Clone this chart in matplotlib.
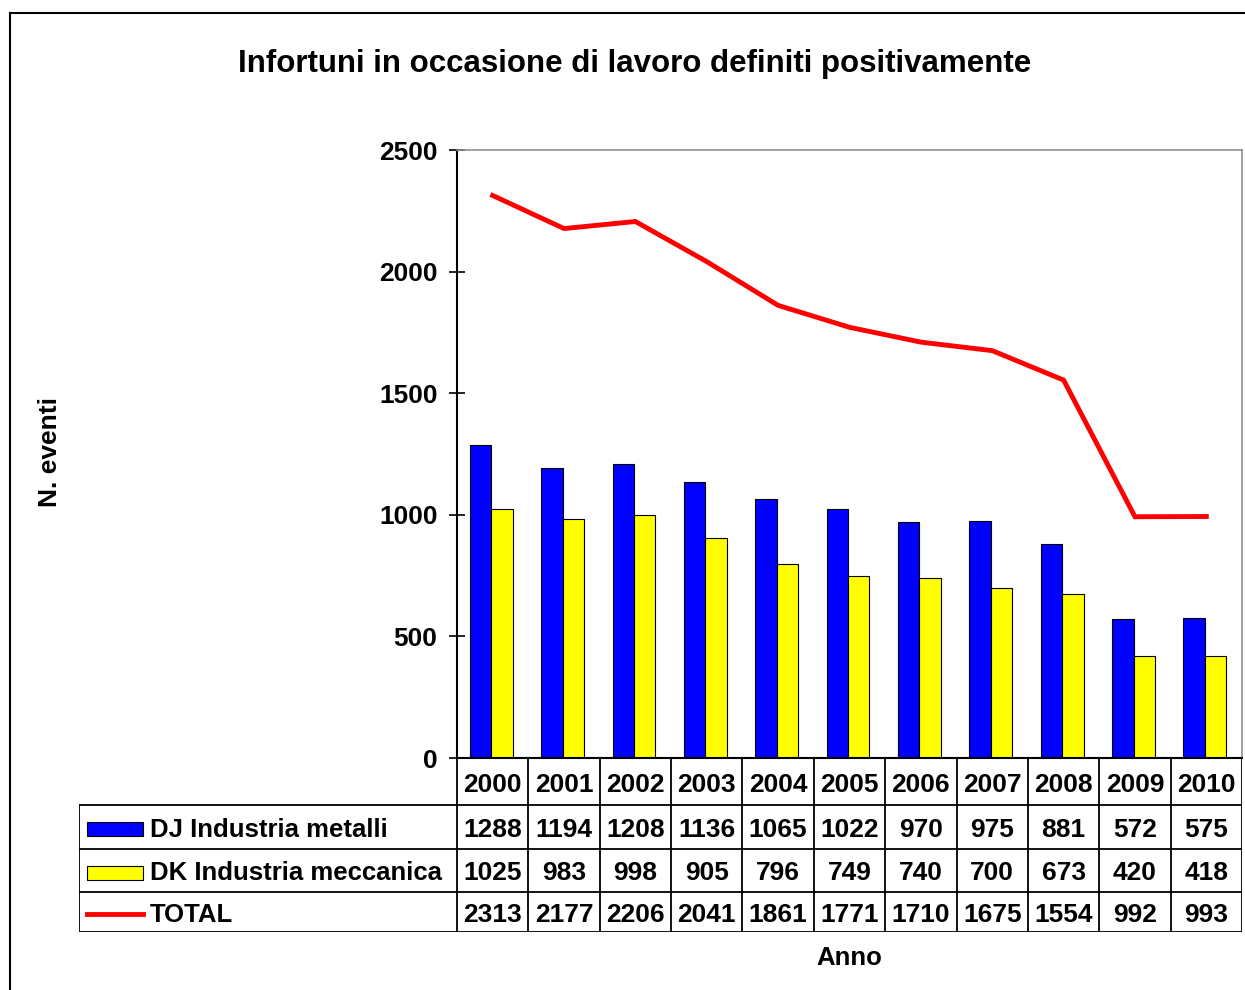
import matplotlib.pyplot as plt
from matplotlib.patches import Rectangle

plt.rcParams['font.family'] = ['Liberation Sans', 'DejaVu Sans']
plt.rcParams['font.weight'] = 'bold'

# Data
years = ['2000', '2001', '2002', '2003', '2004', '2005', '2006', '2007', '2008', '2009', '2010']
metalli = [1288, 1194, 1208, 1136, 1065, 1022, 970, 975, 881, 572, 575]
meccanica = [1025, 983, 998, 905, 796, 749, 740, 700, 673, 420, 418]
total = [2313, 2177, 2206, 2041, 1861, 1771, 1710, 1675, 1554, 992, 993]

series_names = ['DJ Industria metalli', 'DK Industria meccanica', 'TOTAL']
series_values = [metalli, meccanica, total]

W, H = 1245, 990
fig = plt.figure(figsize=(W / 100, H / 100), dpi=100)

# outer chart frame (runs off the right and bottom edges)
frame = Rectangle((10 / W, -0.05), 1.2, 1 - 13 / H + 0.05, transform=fig.transFigure,
                  fill=False, edgecolor='black', linewidth=1.5)
fig.patches.append(frame)

# main plot area
ax = fig.add_axes([457 / W, (H - 758) / H, (1242 - 457) / W, (758 - 150) / H])
x = list(range(len(years)))
bw = 0.3
off = -0.02
ax.bar([i - bw / 2 + off for i in x], metalli, width=bw, color='#0000FF', edgecolor='black', linewidth=0.8)
ax.bar([i + bw / 2 + off for i in x], meccanica, width=bw, color='#FFFF00', edgecolor='black', linewidth=0.8)
ax.plot(x, total, color='#FF0000', linewidth=3.5, solid_joinstyle='miter')

ax.set_xlim(-0.5, len(years) - 0.5)
ax.set_ylim(0, 2500)
ax.set_yticks(range(0, 2501, 500))
ax.set_xticks([])
ax.tick_params(axis='y', direction='inout', length=12, width=1.2, pad=8, labelsize=19)
for lbl in ax.get_yticklabels():
    lbl.set_fontweight('bold')
ax.spines['left'].set_linewidth(1.5)
ax.spines['bottom'].set_linewidth(1.5)
for s in ['top', 'right']:
    ax.spines[s].set_color('#909090')
    ax.spines[s].set_linewidth(1.2)

# data table under the plot, sharing category positions; y in pixel rows
unit = (1242 - 457) / len(years)
x_left = -0.5 - (457 - 79) / unit
x_right = len(years) - 0.5
rows = [758, 805, 849, 892, 932]
tax = fig.add_axes([79 / W, (H - 932) / H, (1242 - 79) / W, (932 - 758) / H])
tax.set_xlim(x_left, x_right)
tax.set_ylim(932, 758)
tax.axis('off')

lc = 'black'
lw = 1.3
for yy in rows[1:]:
    tax.plot([x_left, x_right], [yy, yy], color=lc, lw=lw)
tax.plot([x_left, x_left], [rows[1], rows[-1]], color=lc, lw=lw)
for k in range(len(years) + 1):
    tax.plot([k - 0.5, k - 0.5], [rows[0], rows[-1]], color=lc, lw=lw)

fs = 19
dy = 3  # text sits a little low in the cells
for i, yr in enumerate(years):
    tax.text(i, (rows[0] + rows[1]) / 2 + dy, yr, ha='center', va='center', fontsize=fs, fontweight='bold')
key_x = x_left + 8 / unit
key_w = 56 / unit
for r, vals in enumerate(series_values):
    yc = (rows[r + 1] + rows[r + 2]) / 2
    for i, v in enumerate(vals):
        tax.text(i, yc + dy, str(v), ha='center', va='center', fontsize=fs, fontweight='bold')
    tax.text(x_left + 71 / unit, yc + dy, series_names[r], ha='left', va='center',
             fontsize=18.5, fontweight='bold')
    if r < 2:
        color = '#0000FF' if r == 0 else '#FFFF00'
        tax.add_patch(Rectangle((key_x, yc - 7 + 2), key_w, 14, facecolor=color, edgecolor='black', lw=0.8))
    else:
        tax.plot([key_x, key_x + key_w], [yc + 2, yc + 2], color='#FF0000', lw=3.5)

fig.text(635 / W, 1 - 64 / H, 'Infortuni in occasione di lavoro definiti positivamente',
         ha='center', va='center', fontsize=22.5, fontweight='bold')
fig.text(50 / W, 1 - 452 / H, 'N. eventi', rotation=90, ha='center', va='center',
         fontsize=19, fontweight='bold')
fig.text(849 / W, 1 - 958 / H, 'Anno', ha='center', va='center', fontsize=18.5, fontweight='bold')

fig.savefig('out.png', dpi=100)
